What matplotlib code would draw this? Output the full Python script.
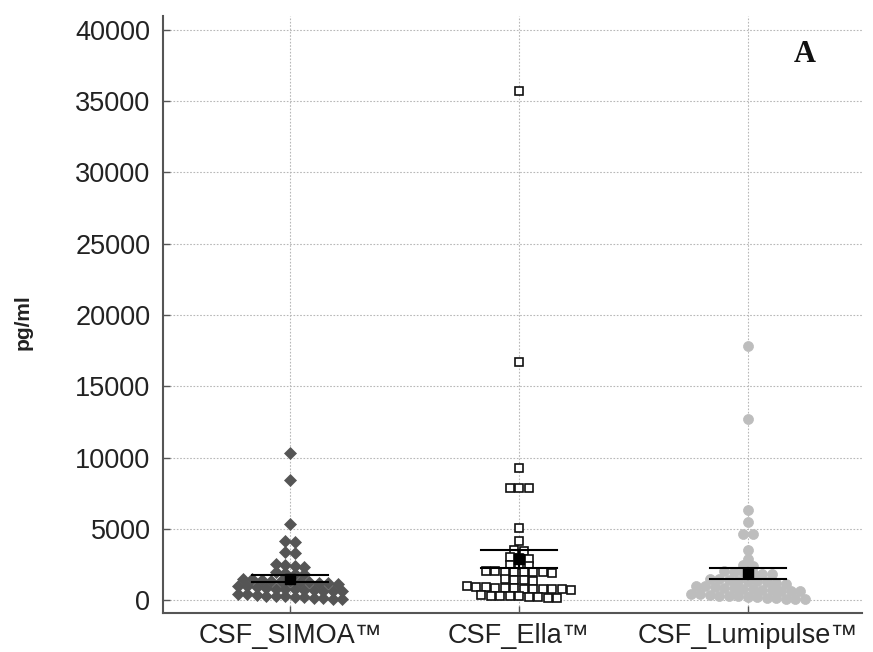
import numpy as np
import matplotlib
matplotlib.use("Agg")
import matplotlib.pyplot as plt

categories = ["CSF_SIMOA™", "CSF_Ella™", "CSF_Lumipulse™"]

simoa = [10300, 8400, 5350, 4150, 4100, 3350, 3300, 2500, 2450, 2400, 2350,
         1950, 1900, 1850, 1800,
         1500, 1450, 1400, 1350, 1300, 1300, 1250, 1250, 1200, 1200, 1150,
         1000, 950, 900, 850, 800, 800, 750, 700, 700, 650, 650, 600,
         450, 400, 350, 300, 300, 250, 200, 200, 150, 150, 100, 80]

ella = [35700, 16700, 9250, 7850, 7850, 7850, 5050, 4150, 3500, 3450,
        3000, 2950, 2900, 2450, 2450, 2400,
        2050, 2050, 2000, 2000, 2000, 1950, 1950, 1900,
        1450, 1400, 1400, 1350,
        950, 900, 900, 850, 850, 850, 800, 800, 800, 750, 750, 700,
        350, 300, 300, 250, 250, 200, 200, 150, 150]

lumipulse = [17800, 12700, 6300, 5450, 4650, 4620, 3480, 2900, 2450, 2400,
             2050, 2000, 1950, 1900, 1850, 1800,
             1500, 1450, 1400, 1350, 1300, 1300, 1250, 1200, 1150,
             1000, 950, 900, 850, 850, 800, 750, 700, 700, 650, 600, 600,
             450, 400, 350, 300, 300, 250, 200, 200, 150, 150, 100, 80, 50]

means = [1470, 2880, 1880]
ci_low = [1230, 2250, 1470]
ci_high = [1720, 3510, 2250]

yticks = list(range(0, 40001, 5000))

plt.rcParams['font.family'] = ['Liberation Sans', 'DejaVu Sans']

fig = plt.figure(figsize=(8.73, 6.52), dpi=100)
ax = fig.add_axes([163 / 873, 1 - 613 / 652, (862 - 163) / 873, (613 - 16) / 652])

ax.set_xlim(0.445, 3.498)
ax.set_ylim(-912, 40982)

# grid
grid_kw = dict(color="#b8b8b8", lw=0.8, ls=(0, (1.5, 1.5)), zorder=0)
for yv in yticks:
    ax.axhline(yv, **grid_kw)
for i in range(len(categories)):
    ax.axvline(i + 1, **grid_kw)


def dot_offsets(values, row_h=580.0, base=250.0, dx=0.0415):
    vals = np.asarray(values, dtype=float)
    rows = np.round((vals - base) / row_h).astype(int)
    offs = np.zeros(len(vals))
    for r in np.unique(rows):
        idx = np.where(rows == r)[0]
        n = len(idx)
        offs[idx] = (np.arange(n) - (n - 1) / 2.0) * dx
    return offs


series = [simoa, ella, lumipulse]
styles = [
    dict(marker="D", ms=6.2, mfc="#555555", mec="#555555", mew=0.5),
    dict(marker="s", ms=6.0, mfc="white", mec="#111111", mew=1.2),
    dict(marker="o", ms=7.2, mfc="#bdbdbd", mec="#bdbdbd", mew=0.5),
]

for i, (vals, st) in enumerate(zip(series, styles)):
    x = i + 1 + dot_offsets(vals)
    ax.plot(x, vals, ls="none", zorder=3, **st)

cap = 0.165
for i in range(3):
    xc = i + 1
    ax.plot([xc, xc], [ci_low[i], ci_high[i]], color="black", lw=1.5, zorder=5)
    ax.plot([xc - cap, xc + cap], [ci_low[i], ci_low[i]], color="black", lw=1.5, zorder=5)
    ax.plot([xc - cap, xc + cap], [ci_high[i], ci_high[i]], color="black", lw=1.5, zorder=5)
    ax.plot([xc], [means[i]], marker="s", ms=7, color="black", ls="none", zorder=6)

for s in ["top", "right"]:
    ax.spines[s].set_visible(False)
for s in ["left", "bottom"]:
    ax.spines[s].set_color("#555555")
    ax.spines[s].set_linewidth(1.5)

ax.set_yticks(yticks)
ax.set_yticklabels([str(v) for v in yticks])
ax.set_xticks([1, 2, 3])
ax.set_xticklabels(categories)
ax.tick_params(axis="y", direction="in", length=5, width=1, color="#555555",
               labelsize=19.5, labelcolor="#222222", pad=9)
ax.tick_params(axis="x", direction="in", length=5, width=1, color="#555555",
               labelsize=19.5, labelcolor="#222222", pad=7)

ax.set_ylabel("pg/ml", fontsize=15, fontweight="bold", color="#222222")
ax.yaxis.set_label_coords(-0.186, 0.487)

ax.text(0.918, 0.935, "A", transform=ax.transAxes, fontsize=22, fontweight="bold",
        family=["Liberation Serif", "DejaVu Serif"], ha="center", va="center", color="#111111")

fig.savefig("out.png", dpi=100)
